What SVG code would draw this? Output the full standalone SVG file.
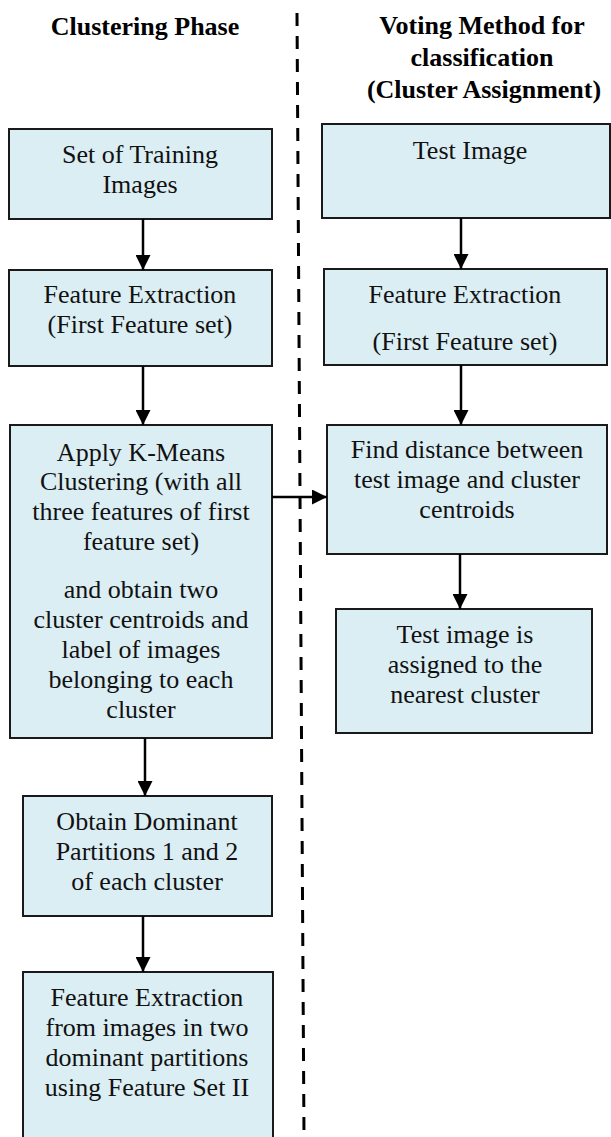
<svg xmlns="http://www.w3.org/2000/svg" width="611" height="1137" viewBox="0 0 611 1137">
  <style>
    .box { fill: #dbeef4; stroke: #1a1a1a; stroke-width: 2; }
    .t { font-size: 26px; fill: #111; text-anchor: middle; }
    .h { font-size: 26px; font-weight: bold; fill: #000; text-anchor: middle; }
    .flow { stroke: #000; stroke-width: 2.5; fill: none; marker-end: url(#head); }
    .divider { stroke: #000; stroke-width: 3; stroke-dasharray: 13 10; fill: none; }
  </style>
  <defs>
    <marker id="head" viewBox="0 0 10 10" refX="10" refY="5" markerUnits="userSpaceOnUse" markerWidth="15" markerHeight="15" orient="auto">
      <path d="M0,0 L10,5 L0,10 Z" fill="#000"/>
    </marker>
  </defs>

  <rect width="611" height="1137" fill="#fff"/>

  <g font-family="Liberation Serif, DejaVu Serif, serif">
  <!-- column headings -->
  <g id="heading-left">
    <text class="h" x="145" y="35">Clustering Phase</text>
  </g>
  <g id="heading-right">
    <text class="h" x="482" y="34">Voting Method for</text>
    <text class="h" x="482" y="66">classification</text>
    <text class="h" x="484" y="98">(Cluster Assignment)</text>
  </g>

  <!-- phase divider -->
  <line class="divider" x1="297" y1="13" x2="304" y2="1137"/>

  <!-- clustering phase -->
  <g id="training-images">
    <rect class="box" x="9" y="129" width="263" height="90"/>
    <text class="t" x="140" y="163">Set of Training</text>
    <text class="t" x="140" y="193">Images</text>
  </g>
  <g id="feature-extraction-1">
    <rect class="box" x="9" y="270" width="263" height="96"/>
    <text class="t" x="140" y="303">Feature Extraction</text>
    <text class="t" x="140" y="333">(First Feature set)</text>
  </g>
  <g id="kmeans">
    <rect class="box" x="10" y="425" width="262" height="313"/>
    <text class="t" x="141" y="461">Apply K-Means</text>
    <text class="t" x="141" y="490">Clustering (with all</text>
    <text class="t" x="141" y="520">three features of first</text>
    <text class="t" x="141" y="550">feature set)</text>
    <text class="t" x="141" y="598">and obtain two</text>
    <text class="t" x="141" y="628">cluster centroids and</text>
    <text class="t" x="141" y="658">label of images</text>
    <text class="t" x="141" y="688">belonging to each</text>
    <text class="t" x="141" y="718">cluster</text>
  </g>
  <g id="dominant-partitions">
    <rect class="box" x="23" y="796" width="249" height="120"/>
    <text class="t" x="147" y="830">Obtain Dominant</text>
    <text class="t" x="147" y="860">Partitions 1 and 2</text>
    <text class="t" x="147" y="890">of each cluster</text>
  </g>
  <g id="feature-extraction-2">
    <rect class="box" x="23" y="972" width="250" height="180"/>
    <text class="t" x="147" y="1006">Feature Extraction</text>
    <text class="t" x="147" y="1036">from images in two</text>
    <text class="t" x="147" y="1066">dominant partitions</text>
    <text class="t" x="147" y="1096">using Feature Set II</text>
  </g>

  <!-- classification phase -->
  <g id="test-image">
    <rect class="box" x="322" y="124" width="288" height="94"/>
    <text class="t" x="470" y="159">Test Image</text>
  </g>
  <g id="feature-extraction-test">
    <rect class="box" x="324" y="269" width="283" height="96"/>
    <text class="t" x="465" y="303">Feature Extraction</text>
    <text class="t" x="465" y="350">(First Feature set)</text>
  </g>
  <g id="distance">
    <rect class="box" x="327" y="425" width="280" height="129"/>
    <text class="t" x="467" y="458">Find distance between</text>
    <text class="t" x="467" y="488">test image and cluster</text>
    <text class="t" x="467" y="518">centroids</text>
  </g>
  <g id="assignment">
    <rect class="box" x="336" y="609" width="256" height="124"/>
    <text class="t" x="465" y="643">Test image is</text>
    <text class="t" x="465" y="673">assigned to the</text>
    <text class="t" x="465" y="703">nearest cluster</text>
  </g>

  <!-- connectors -->
  <g id="connectors">
    <line class="flow" x1="143" y1="219" x2="143" y2="270"/>
    <line class="flow" x1="143" y1="366" x2="143" y2="425"/>
    <line class="flow" x1="145" y1="738" x2="145" y2="796"/>
    <line class="flow" x1="143" y1="916" x2="143" y2="972"/>
    <line class="flow" x1="272" y1="497" x2="327" y2="497"/>
    <line class="flow" x1="461" y1="218" x2="461" y2="269"/>
    <line class="flow" x1="461" y1="365" x2="461" y2="425"/>
    <line class="flow" x1="460" y1="554" x2="460" y2="609"/>
  </g>
  </g>
</svg>
